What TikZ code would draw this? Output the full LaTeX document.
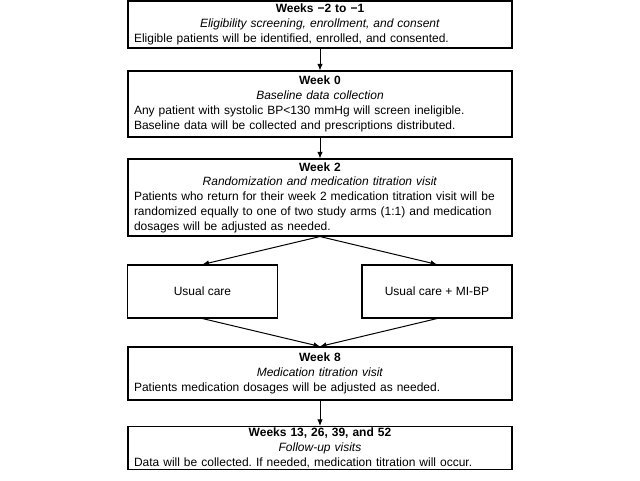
\documentclass[tikz,border=0pt]{standalone}
\usepackage{fontspec}
\setmainfont{Liberation Sans}
\usetikzlibrary{arrows.meta}
\frenchspacing

\newcommand{\stagehead}[2]{\makebox[\linewidth]{\textbf{#1}}\\\makebox[\linewidth]{\textit{#2}}\\}

\tikzset{
  stage/.style={draw, line width=1.1pt, text width=372pt, inner xsep=6pt, inner ysep=0pt,
                align=left, font=\fontsize{12}{14.8}\selectfont},
  arm/.style={draw, line width=1.1pt, minimum width=150pt, minimum height=53pt,
              font=\fontsize{12}{14.8}\selectfont},
  flow/.style={-{Latex[length=6.5pt,width=5.5pt]}, line width=1pt}
}

\begin{document}
\begin{tikzpicture}
\useasboundingbox (0pt,0pt) rectangle (640pt,-480pt);

\node[stage, minimum height=47pt] (wkpre) at (320pt,-24.5pt)
  {\stagehead{Weeks −2 to −1}{Eligibility screening, enrollment, and consent}%
   Eligible patients will be identified, enrolled, and consented.};
\node[stage, minimum height=66pt] (wkzero) at (320pt,-104pt)
  {\stagehead{Week 0}{Baseline data collection}%
   Any patient with systolic BP<130 mmHg will screen ineligible.\\
   Baseline data will be collected and prescriptions distributed.};
\node[stage, minimum height=77pt] (wktwo) at (320pt,-197.5pt)
  {\stagehead{Week 2}{Randomization and medication titration visit}%
   Patients who return for their week 2 medication titration visit will be\\
   randomized equally to one of two study arms (1:1) and medication\\
   dosages will be adjusted as needed.};
\node[arm] (usual) at (202.5pt,-291.5pt) {Usual care};
\node[arm] (mibp) at (437pt,-291.5pt) {Usual care + MI-BP};
\node[stage, minimum height=53pt] (wkeight) at (320pt,-373.5pt)
  {\stagehead{Week 8}{Medication titration visit}%
   Patients medication dosages will be adjusted as needed.};
\node[stage, minimum height=43pt] (followup) at (320pt,-448pt)
  {\stagehead{Weeks 13, 26, 39, and 52}{Follow-up visits}%
   Data will be collected. If needed, medication titration will occur.};

\draw[flow] (wkpre) -- (wkzero);
\draw[flow] (wkzero) -- (wktwo);
\draw[flow] (wktwo.south) -- (usual.north);
\draw[flow] (wktwo.south) -- (mibp.north);
\draw[flow] (usual.south) -- (wkeight.north);
\draw[flow] (mibp.south) -- (wkeight.north);
\draw[flow] (wkeight) -- (followup);
\end{tikzpicture}
\end{document}
